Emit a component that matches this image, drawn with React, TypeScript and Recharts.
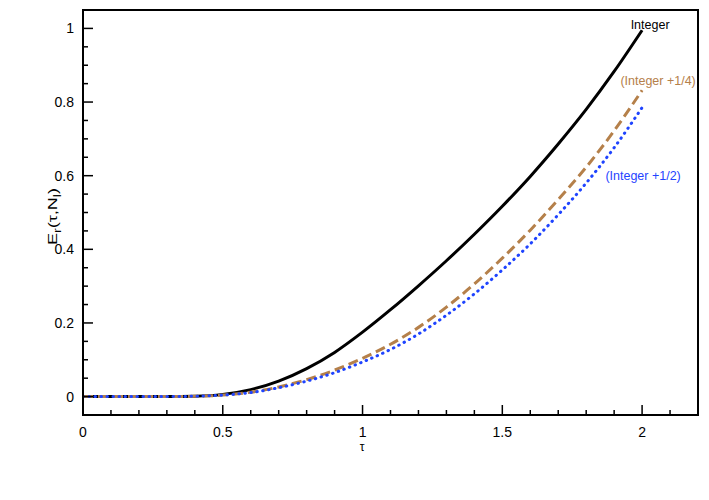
import React from "react";
import { LineChart, Line, XAxis, YAxis, ReferenceArea, LabelList } from "recharts";

const tau = [0, 0.1, 0.2, 0.3, 0.4, 0.5, 0.6, 0.7, 0.8, 0.9, 1.0, 1.1, 1.2, 1.3, 1.4, 1.5, 1.6, 1.7, 1.8, 1.9, 2.0];
const integerVals = [0, 0, 0, 0, 0.001, 0.006, 0.019, 0.042, 0.076, 0.12, 0.175, 0.236, 0.301, 0.369, 0.441, 0.517, 0.598, 0.686, 0.78, 0.883, 0.995];
const quarterVals = [0, 0, 0, 0, 0.001, 0.004, 0.012, 0.026, 0.046, 0.072, 0.104, 0.142, 0.188, 0.243, 0.306, 0.376, 0.452, 0.535, 0.623, 0.722, 0.832];
const halfVals = [0, 0, 0, 0, 0.001, 0.004, 0.011, 0.024, 0.042, 0.065, 0.094, 0.128, 0.17, 0.221, 0.279, 0.344, 0.415, 0.494, 0.58, 0.676, 0.785];

const xTicks = [0, 0.1, 0.2, 0.3, 0.4, 0.5, 0.6, 0.7, 0.8, 0.9, 1, 1.1, 1.2, 1.3, 1.4, 1.5, 1.6, 1.7, 1.8, 1.9, 2, 2.1];
const xMajor = [0, 0.5, 1, 1.5, 2];
const xMajorLabels = ["0", "0.5", "1", "1.5", "2"];
const yTicks = [0, 0.05, 0.1, 0.15, 0.2, 0.25, 0.3, 0.35, 0.4, 0.45, 0.5, 0.55, 0.6, 0.65, 0.7, 0.75, 0.8, 0.85, 0.9, 0.95, 1];
const yMajor = [0, 0.2, 0.4, 0.6, 0.8, 1];
const yMajorLabels = ["0", "0.2", "0.4", "0.6", "0.8", "1"];

const seriesNames = ["Integer", "(Integer +1/4)", "(Integer +1/2)"];
const colors = ["#000000", "#b5804a", "#1f44ff"];

const data = tau.map((t, i) => ({ tau: t, a: integerVals[i], b: quarterVals[i], c: halfVals[i] }));

const FONT = "'Liberation Sans', Arial, Helvetica, sans-serif";

const findIdx = (arr: number[], v: number) => arr.findIndex((m) => Math.abs(m - v) < 1e-6);

const XTick = (props: any) => {
  const { x, y, payload } = props;
  const idx = findIdx(xMajor, payload.value);
  const major = idx >= 0;
  return (
    <g>
      <line x1={x} x2={x} y1={y} y2={y - (major ? 10 : 5)} stroke="#000" strokeWidth={1.5} />
      {major && (
        <text x={x} y={y + 22} textAnchor="middle" fontSize={14} fontFamily={FONT} fill="#000">
          {xMajorLabels[idx]}
        </text>
      )}
    </g>
  );
};

const YTick = (props: any) => {
  const { x, y, payload } = props;
  const idx = findIdx(yMajor, payload.value);
  const major = idx >= 0;
  return (
    <g>
      <line x1={x} x2={x + (major ? 10 : 5)} y1={y} y2={y} stroke="#000" strokeWidth={1.5} />
      {major && (
        <text x={x - 9} y={y + 5} textAnchor="end" fontSize={14} fontFamily={FONT} fill="#000">
          {yMajorLabels[idx]}
        </text>
      )}
    </g>
  );
};

const makeEndLabel = (text: string, color: string, dx: number, dy: number) => (p: any) => {
  if (p.index !== tau.length - 1) return null;
  return (
    <text x={p.x + dx} y={p.y + dy} textAnchor="middle" fontSize={12.5} fontFamily={FONT} fill={color}>
      {text}
    </text>
  );
};

const YLabel = (p: any) => {
  const vb = p.viewBox || {};
  const cx = 57;
  const cy = (vb.y ?? 10) + (vb.height ?? 405) / 2 + 4;
  return (
    <text
      x={cx}
      y={cy}
      transform={`rotate(-90, ${cx}, ${cy})`}
      textAnchor="middle"
      fontSize={13}
      fontFamily={FONT}
      fill="#000"
      textLength={57}
      lengthAdjust="spacingAndGlyphs"
    >
      <tspan>E</tspan>
      <tspan dy={4} fontSize={10}>r</tspan>
      <tspan dy={-4}>(τ,N</tspan>
      <tspan dy={4} fontSize={10}>l</tspan>
      <tspan dy={-4}>)</tspan>
    </text>
  );
};

const XLabel = (p: any) => {
  const vb = p.viewBox || {};
  const cx = (vb.x ?? 83) + (vb.width ?? 615) * 0.4537;
  return (
    <text x={cx} y={451} textAnchor="middle" fontSize={12} fontFamily={FONT} fill="#000">
      τ
    </text>
  );
};

export default function App() {
  return (
    <div style={{ position: "absolute", left: 0, top: 0, width: 709, height: 500, background: "#fff" }}>
      <LineChart width={709} height={500} data={data} margin={{ top: 10, right: 11, bottom: 0, left: 0 }}>
        <XAxis
          dataKey="tau"
          type="number"
          domain={[0, 2.2]}
          ticks={xTicks}
          interval={0}
          height={85}
          tickSize={0}
          tickMargin={0}
          tickLine={false}
          tick={<XTick />}
          axisLine={{ stroke: "#000", strokeWidth: 2 }}
          allowDataOverflow
          label={<XLabel />}
        />
        <YAxis
          type="number"
          domain={[-0.05, 1.05]}
          ticks={yTicks}
          interval={0}
          width={83}
          tickSize={0}
          tickMargin={0}
          tickLine={false}
          tick={<YTick />}
          axisLine={{ stroke: "#000", strokeWidth: 2 }}
          allowDataOverflow
          label={<YLabel />}
        />
        <ReferenceArea x1={0} x2={2.2} y1={-0.05} y2={1.05} fill="none" stroke="#000" strokeWidth={2} ifOverflow="extendDomain" />
        <Line type="monotone" dataKey="a" stroke={colors[0]} strokeWidth={3} dot={false} isAnimationActive={false}>
          <LabelList dataKey="a" content={makeEndLabel(seriesNames[0], colors[0], 8, -1)} />
        </Line>
        <Line type="monotone" dataKey="b" stroke={colors[1]} strokeWidth={3} strokeDasharray="10 5" dot={false} isAnimationActive={false}>
          <LabelList dataKey="b" content={makeEndLabel(seriesNames[1], colors[1], 16, -5)} />
        </Line>
        <Line type="monotone" dataKey="c" stroke={colors[2]} strokeWidth={3} strokeDasharray="0.5 5.5" strokeLinecap="round" dot={false} isAnimationActive={false}>
          <LabelList dataKey="c" content={makeEndLabel(seriesNames[2], colors[2], 1, 72)} />
        </Line>
      </LineChart>
    </div>
  );
}
